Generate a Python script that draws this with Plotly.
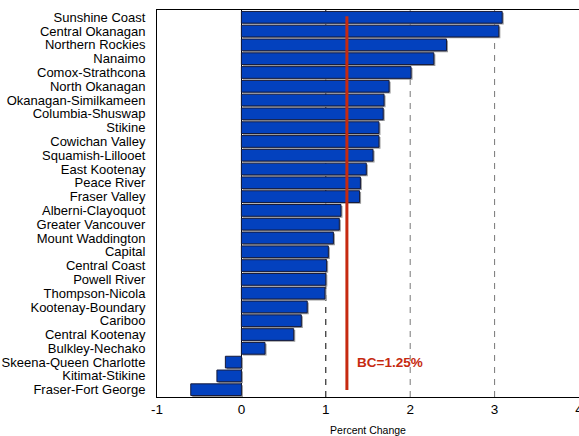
import plotly.graph_objects as go

regions = [
    "Sunshine Coast", "Central Okanagan", "Northern Rockies", "Nanaimo",
    "Comox-Strathcona", "North Okanagan", "Okanagan-Similkameen",
    "Columbia-Shuswap", "Stikine", "Cowichan Valley", "Squamish-Lillooet",
    "East Kootenay", "Peace River", "Fraser Valley", "Alberni-Clayoquot",
    "Greater Vancouver", "Mount Waddington", "Capital", "Central Coast",
    "Powell River", "Thompson-Nicola", "Kootenay-Boundary", "Cariboo",
    "Central Kootenay", "Bulkley-Nechako", "Skeena-Queen Charlotte",
    "Kitimat-Stikine", "Fraser-Fort George",
]
pct_change = [
    3.09, 3.05, 2.43, 2.28, 2.01, 1.75, 1.69, 1.68, 1.63, 1.63, 1.56,
    1.48, 1.41, 1.40, 1.18, 1.16, 1.09, 1.03, 1.01, 1.00, 0.99, 0.78,
    0.71, 0.62, 0.28, -0.19, -0.29, -0.60,
]
bc_value = 1.25
x_ticks = [-1, 0, 1, 2, 3, 4]
x_tick_labels = ["-1", "0", "1", "2", "3", "4"]
grid_ticks = [1, 2, 3]
grid_colors = ["#000000", "#777777", "#777777"]

FONT = "Liberation Sans, Arial, sans-serif"
BAR_W = 0.85

fig = go.Figure()
# shadow
fig.add_trace(go.Bar(
    y=regions, x=pct_change, orientation="h", base=0.018,
    width=BAR_W, offset=-BAR_W / 2 + 0.1,
    marker=dict(color="#9a9a9a", line=dict(width=0)),
    hoverinfo="skip", showlegend=False,
))
fig.add_trace(go.Bar(
    y=regions, x=pct_change, orientation="h",
    width=BAR_W, offset=-BAR_W / 2,
    marker=dict(color="#0341BE", line=dict(color="#151a3a", width=1)),
    showlegend=False,
))

for t, c in zip(grid_ticks, grid_colors):
    fig.add_shape(type="line", xref="x", yref="paper", x0=t, x1=t, y0=0, y1=1,
                  line=dict(color=c, width=1, dash="6px,6px"), layer="below")

fig.add_shape(type="line", xref="x", yref="paper", x0=bc_value, x1=bc_value,
              y0=0.018, y1=0.984, line=dict(color="#C62A10", width=3))
fig.add_annotation(x=bc_value, xref="x", y=regions[25], yref="y",
                   text=f"<b>BC={bc_value:.2f}%</b>", showarrow=False,
                   xanchor="left", xshift=8,
                   font=dict(color="#C62A10", size=13.5, family=FONT))

fig.update_layout(
    width=579, height=436,
    margin=dict(l=157, r=0, t=10, b=39),
    paper_bgcolor="white", plot_bgcolor="white",
    barmode="overlay",
    font=dict(family=FONT, color="black"),
    xaxis=dict(
        range=[-1, 4], tickmode="array", tickvals=x_ticks, ticktext=x_tick_labels,
        ticks="", showgrid=False,
        zeroline=True, zerolinecolor="black", zerolinewidth=1,
        showline=True, linecolor="black", linewidth=1, mirror=True,
        tickfont=dict(size=13.5, family=FONT), ticklabeloverflow="allow",
        title=dict(text="Percent Change", font=dict(size=10.5, family=FONT), standoff=11),
        automargin=False,
    ),
    yaxis=dict(
        range=[len(regions) - 0.47, -0.53], type="category",
        tickmode="array", tickvals=regions, ticktext=regions,
        showgrid=False, ticks="", ticklabelstandoff=8,
        showline=True, linecolor="black", linewidth=1,
        tickfont=dict(size=13, family=FONT), ticklabeloverflow="allow",
        automargin=False,
    ),
)

fig.write_html("out.html", config={"displayModeBar": False},
               post_script="document.body.style.margin='0';document.body.style.padding='0';")
